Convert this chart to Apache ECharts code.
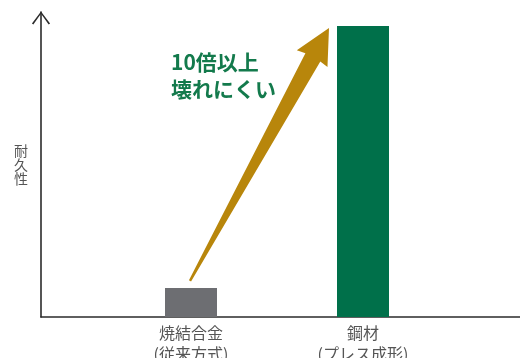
<!DOCTYPE html>
<html>
<head>
<meta charset="utf-8">
<script src="https://cdn.jsdelivr.net/npm/echarts@6/dist/echarts.min.js"></script>
<style>
html,body{margin:0;padding:0;background:#fff;}
#c{width:520px;height:358px;}
</style>
</head>
<body>
<div id="c"></div>
<script>
const categories = ['焼結合金\n(従来方式)', '鋼材\n(プレス成形)'];
const durability = [1, 10];
const barColors = ['#6d6e72', '#00704a'];
const axisName = '耐久性';
const annotation = '10倍以上\n壊れにくい';

const FONT = '"Noto Sans CJK JP", "Noto Sans", sans-serif';
const chart = echarts.init(document.getElementById('c'), null, {renderer: 'canvas'});

const option = {
  animation: false,
  backgroundColor: '#ffffff',
  grid: [
    {left: 41, right: 0, top: 12, bottom: 41, outerBoundsMode: 'none', containLabel: false},
    {left: 105, width: 344, top: 26, bottom: 41, outerBoundsMode: 'none', containLabel: false}
  ],
  xAxis: [
    {
      gridIndex: 0, type: 'value', min: 0, max: 1,
      axisLine: {show: true, lineStyle: {color: '#2b2b2b', width: 1.6}},
      axisTick: {show: false}, axisLabel: {show: false}, splitLine: {show: false}
    },
    {
      gridIndex: 1, type: 'category', data: categories,
      axisLine: {show: false}, axisTick: {show: false},
      axisLabel: {
        margin: 5, color: '#555555', fontSize: 16, lineHeight: 21,
        fontFamily: FONT
      }
    }
  ],
  yAxis: [
    {
      gridIndex: 0, type: 'value', min: 0, max: 1,
      name: axisName.split('').join('\n'),
      nameLocation: 'middle', nameRotate: 0, nameGap: 13,
      nameTextStyle: {color: '#555555', fontSize: 14, lineHeight: 14, fontFamily: FONT, padding: [19, 0, 0, 0]},
      axisLine: {
        show: true, lineStyle: {color: '#2b2b2b', width: 1.6},
        symbol: ['none', 'path://M0,12 L9,0 L18,12 L16.6,12.9 L9,2.3 L1.4,12.9 Z'],
        symbolSize: [19, 13], symbolOffset: [0, -6]
      },
      axisTick: {show: false}, axisLabel: {show: false}, splitLine: {show: false}
    },
    {
      gridIndex: 1, type: 'value', min: 0, max: 10, show: false
    }
  ],
  series: [{
    type: 'bar', xAxisIndex: 1, yAxisIndex: 1,
    barWidth: 52,
    data: durability.map((v, i) => ({value: v, itemStyle: {color: barColors[i]}}))
  }]
};
chart.setOption(option);

// annotation arrow from the top of the first bar to the top of the second bar
const p0 = chart.convertToPixel({xAxisIndex: 1, yAxisIndex: 1}, [0, durability[0]]);
const p1 = chart.convertToPixel({xAxisIndex: 1, yAxisIndex: 1}, [1, durability[1]]);
const S = [p0[0] - 1, p0[1] - 7];
const T = [p1[0] - 34, p1[1] + 2];
const dx = T[0] - S[0], dy = T[1] - S[1];
const L = Math.hypot(dx, dy);
const u = [dx / L, dy / L];
const n = [-u[1], u[0]];
function pt(a, b) { return [S[0] + u[0] * a + n[0] * b, S[1] + u[1] * a + n[1] * b]; }
const poly = [
  pt(0, 1.2), pt(L - 33.5, 8.5), pt(L - 35, 17.5), pt(L, 0),
  pt(L - 35, -17.5), pt(L - 33.5, -8.5), pt(0, -1.2)
];

chart.setOption({
  graphic: [
    {type: 'polygon', shape: {points: poly}, style: {fill: '#b8860b'}, z: 10},
    {
      type: 'text', left: 171, top: 49, z: 11,
      style: {
        text: annotation, fill: '#137a4c', fontSize: 21, fontWeight: 'bold',
        lineHeight: 27, fontFamily: FONT
      }
    }
  ]
});
</script>
</body>
</html>
